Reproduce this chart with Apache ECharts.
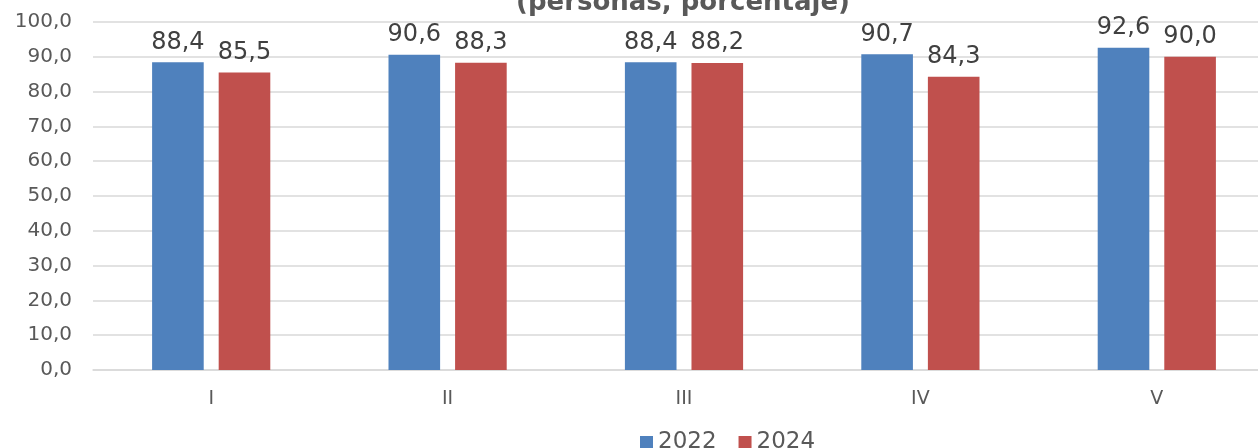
<!DOCTYPE html>
<html><head><meta charset="utf-8">
<script src="https://cdn.jsdelivr.net/npm/echarts@6/dist/echarts.min.js"></script>
<style>html,body{margin:0;padding:0;background:#fff;overflow:hidden;width:1258px;height:448px}#c{width:1275px;height:448px}</style>
</head><body><div id="c"></div>
<script>
const categories = ['I','II','III','IV','V'];
const s2022 = [88.4, 90.6, 88.4, 90.7, 92.6];
const s2024 = [85.5, 88.3, 88.2, 84.3, 90.0];
const seriesNames = ['2022','2024'];
const titleText = '(personas, porcentaje)';
const fmt = v => v.toFixed(1).replace('.', ',');
const chart = echarts.init(document.getElementById('c'));
const font = 'DejaVu Sans';
chart.setOption({
  animation:false,
  title:{text:titleText,left:678,textAlign:'center',top:-15,textStyle:{fontFamily:font,fontSize:26,fontWeight:'bold',color:'#595959'}},
  legend:{data:seriesNames,left:635,top:426,itemWidth:13,itemHeight:13,itemGap:22,icon:'rect',textStyle:{fontFamily:font,fontSize:23,color:'#595959'}},
  grid:{left:93,right:0,top:22,bottom:78,containLabel:false},
  xAxis:{type:'category',data:categories,axisLine:{lineStyle:{color:'#D9D9D9',width:1.5}},axisTick:{show:false},
    axisLabel:{fontFamily:font,fontSize:19,color:'#595959',margin:20}},
  yAxis:{type:'value',min:0,max:100,interval:10,axisLine:{show:false},axisTick:{show:false},
    splitLine:{lineStyle:{color:'#D9D9D9',width:1.5}},
    axisLabel:{fontFamily:font,fontSize:20,color:'#595959',margin:21,formatter:v=>fmt(v)}},
  series:[
    {name:seriesNames[0],type:'bar',data:s2022,barGap:'29%',barCategoryGap:'50%',itemStyle:{color:'#4F81BD'},
      label:{show:true,position:'top',distance:8,fontFamily:font,fontSize:24,color:'#404040',formatter:p=>fmt(p.value)}},
    {name:seriesNames[1],type:'bar',data:s2024,itemStyle:{color:'#C0504D'},
      label:{show:true,position:'top',distance:8,fontFamily:font,fontSize:24,color:'#404040',formatter:p=>fmt(p.value)}}
  ]
});
</script></body></html>
